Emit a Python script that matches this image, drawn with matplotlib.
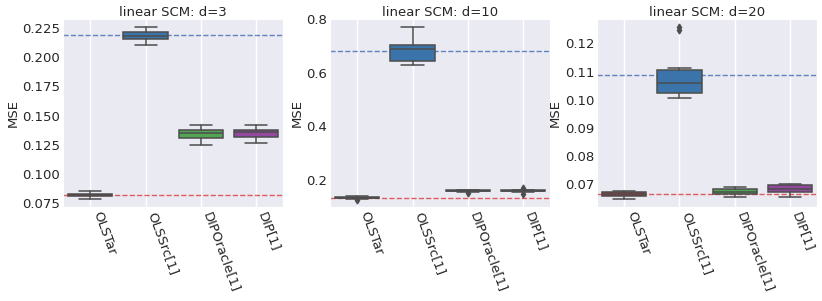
import matplotlib
matplotlib.use("Agg")
import matplotlib.pyplot as plt
import seaborn as sns

methods = ["OLSTar", "OLSSrc[1]", "DIPOracle[1]", "DIP[1]"]
colors = ["#a03a3a", "#3b74ab", "#52a552", "#93479e"]
titles = ["linear SCM: d=3", "linear SCM: d=10", "linear SCM: d=20"]

# per panel, per method: (whislo, q1, med, q3, whishi)
stats_d3 = [(0.0784, 0.0810, 0.0820, 0.0830, 0.0855),
            (0.2104, 0.2153, 0.2185, 0.2218, 0.2256),
            (0.1249, 0.1311, 0.1350, 0.1376, 0.1417),
            (0.1266, 0.1319, 0.1355, 0.1376, 0.1417)]
stats_d10 = [(0.130, 0.132, 0.1345, 0.137, 0.139),
             (0.629, 0.642, 0.689, 0.703, 0.769),
             (0.157, 0.1575, 0.160, 0.1625, 0.164),
             (0.157, 0.1575, 0.160, 0.1625, 0.164)]
stats_d20 = [(0.0647, 0.0659, 0.0667, 0.0674, 0.0676),
             (0.1005, 0.1023, 0.1060, 0.1104, 0.1114),
             (0.0657, 0.0668, 0.0674, 0.0683, 0.0690),
             (0.0657, 0.0672, 0.0685, 0.0698, 0.0703)]
fliers_d3 = [[], [], [], []]
fliers_d10 = [[0.125], [], [0.152], [0.149, 0.170]]
fliers_d20 = [[], [0.1248, 0.1258], [], []]

# dashed reference lines: (source OLS level, target OLS level)
ref_src = [0.219, 0.682, 0.1088]
ref_tar = [0.0821, 0.134, 0.0668]

ylims = [(0.0716, 0.2327), (0.099, 0.80), (0.0620, 0.1286)]
yticks = [[0.075, 0.100, 0.125, 0.150, 0.175, 0.200, 0.225],
          [0.2, 0.4, 0.6, 0.8],
          [0.07, 0.08, 0.09, 0.10, 0.11, 0.12]]
yfmt = ["{:.3f}", "{:.1f}", "{:.2f}"]

sns.set_style("darkgrid")
plt.rcParams["font.family"] = ["DejaVu Sans"]

fig, axes = plt.subplots(1, 3, figsize=(8.22, 3.01), dpi=100)
fig.subplots_adjust(left=0.0766, right=0.994, bottom=0.312, top=0.937, wspace=0.213)

all_stats = [stats_d3, stats_d10, stats_d20]
all_fliers = [fliers_d3, fliers_d10, fliers_d20]
edge = "#4d4d4d"
fs = 9.5

for k, ax in enumerate(axes):
    bxps = []
    for (lo, q1, med, q3, hi), fl in zip(all_stats[k], all_fliers[k]):
        bxps.append(dict(whislo=lo, q1=q1, med=med, q3=q3, whishi=hi, fliers=fl))
    res = ax.bxp(bxps, positions=range(len(methods)), widths=0.8, capwidths=0.4,
                 patch_artist=True, showfliers=True,
                 boxprops=dict(edgecolor=edge, linewidth=1.1),
                 whiskerprops=dict(color=edge, linewidth=1.1),
                 capprops=dict(color=edge, linewidth=1.1),
                 medianprops=dict(color=edge, linewidth=1.1),
                 flierprops=dict(marker="d", markersize=3.5, markerfacecolor=edge,
                                 markeredgecolor=edge))
    for patch, c in zip(res["boxes"], colors):
        patch.set_facecolor(c)
    ax.axhline(ref_src[k], color="#4a72bd", ls="--", lw=1.0, alpha=0.85, zorder=1)
    ax.axhline(ref_tar[k], color="#de3538", ls="--", lw=1.0, alpha=0.8, zorder=1)
    ax.set_xlim(-0.5, len(methods) - 0.5)
    ax.set_ylim(*ylims[k])
    ax.set_yticks(yticks[k])
    ax.set_yticklabels([yfmt[k].format(t) for t in yticks[k]], fontsize=fs)
    ax.set_xticks(range(len(methods)))
    ax.set_xticklabels(methods, rotation=-70, ha="left", fontsize=fs)
    ax.grid(False, axis="y")
    ax.grid(True, axis="x", color="white", lw=1.0)
    ax.tick_params(axis="both", pad=2, length=0)
    ax.set_ylabel("MSE", fontsize=fs, labelpad=2)
    ax.set_title(titles[k], fontsize=fs, pad=2)

fig.savefig("out.png", dpi=100)
